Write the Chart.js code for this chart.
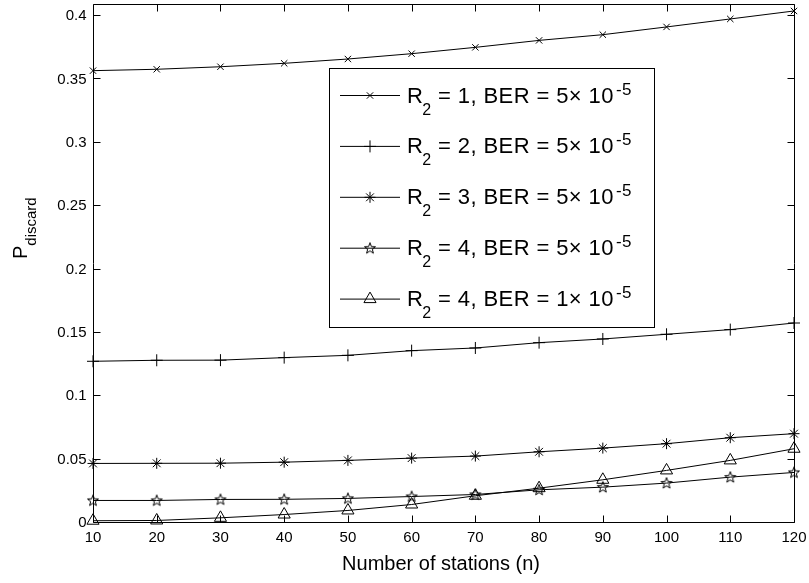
<!DOCTYPE html>
<html><head><meta charset="utf-8">
<script src="https://cdn.jsdelivr.net/npm/chart.js@4/dist/chart.umd.min.js"></script>
<style>html,body{margin:0;padding:0;background:#fff}#wrap{width:809px;height:583px;position:relative}</style>
</head><body><div id="wrap"><canvas id="c"></canvas></div>
<script>
// ---- data ----
const stations = [10,20,30,40,50,60,70,80,90,100,110,120];
const r1Ber5 = [0.3561,0.3572,0.3592,0.3619,0.3653,0.3695,0.3745,0.3800,0.3845,0.3906,0.3969,0.4032];
const r2Ber5 = [0.1268,0.1276,0.1277,0.1297,0.1315,0.1352,0.1373,0.1415,0.1444,0.1481,0.1518,0.1570];
const r3Ber5 = [0.0462,0.0463,0.0464,0.0472,0.0486,0.0504,0.0520,0.0554,0.0583,0.0618,0.0665,0.0697];
const r4Ber5 = [0.0170,0.0170,0.0178,0.0179,0.0186,0.0201,0.0217,0.0254,0.0275,0.0307,0.0354,0.0391];
const r4Ber1 = [0.0010,0.0012,0.0033,0.0059,0.0091,0.0138,0.0207,0.0267,0.0333,0.0407,0.0486,0.0578];
const xTickValues = [10,20,30,40,50,60,70,80,90,100,110,120];
const yTickValues = [0,0.05,0.1,0.15,0.2,0.25,0.3,0.35,0.4];
const yTickLabels = ['0','0.05','0.1','0.15','0.2','0.25','0.3','0.35','0.4'];
const legendR = ['1','2','3','4','4'];
const legendBER = ['5','5','5','5','1'];
const xTitle = 'Number of stations (n)';
const yTitleMain = 'P';
const yTitleSub = 'discard';

const FONT = '"Liberation Sans", Arial, Helvetica, sans-serif';

// pentagram marker
function makePentagram(){
  const c = document.createElement('canvas');
  c.width = 14; c.height = 14;
  const g = c.getContext('2d');
  g.strokeStyle = '#000'; g.lineWidth = 1;
  g.beginPath();
  const cx = 7, cy = 7.3, ro = 5.8, ri = 2.4;
  for (let k = 0; k < 10; k++){
    const ang = -Math.PI/2 + k*Math.PI/5;
    const rr = k % 2 === 0 ? ro : ri;
    const px = cx + rr*Math.cos(ang), py = cy + rr*Math.sin(ang);
    if (k === 0) g.moveTo(px, py); else g.lineTo(px, py);
  }
  g.closePath(); g.stroke();
  return c;
}
const pent = makePentagram();

const seriesList = [r1Ber5, r2Ber5, r3Ber5, r4Ber5, r4Ber1];
const styles = [
  {pointStyle:'crossRot', radius:4.5},
  {pointStyle:'cross', radius:6},
  {pointStyle:'star', radius:5.5},
  {pointStyle:pent, radius:6},
  {pointStyle:'triangle', radius:7}
];

const datasets = seriesList.map((s, i) => ({
  label: 'R' + legendR[i],
  data: stations.map((x, j) => ({x: x, y: s[j]})),
  borderColor: '#000',
  borderWidth: 1,
  pointStyle: styles[i].pointStyle,
  pointRadius: styles[i].radius,
  pointHoverRadius: styles[i].radius,
  pointBorderColor: '#000',
  pointBackgroundColor: 'rgba(0,0,0,0)',
  pointBorderWidth: 1,
  fill: false,
  tension: 0,
  clip: false
}));

function drawMarker(ctx, st, x, y){
  if (Chart.helpers && Chart.helpers.drawPoint){
    Chart.helpers.drawPoint(ctx, {pointStyle: st.pointStyle, radius: st.radius, rotation: 0, borderWidth: 1}, x, y);
  }
}

const frame = {
  id: 'frame',
  beforeDatasetsDraw(chart){
    const {ctx, chartArea: a, scales: {x, y}} = chart;
    ctx.save();
    ctx.strokeStyle = '#000'; ctx.lineWidth = 1;
    const L = Math.round(a.left) + 0.5, R = Math.round(a.right) + 0.5;
    const T = Math.round(a.top) + 0.5, B = Math.round(a.bottom) + 0.5;
    ctx.beginPath();
    ctx.rect(L, T, R - L, B - T);
    const tl = 7;
    x.ticks.forEach(t => {
      const px = Math.round(x.getPixelForValue(t.value)) + 0.5;
      ctx.moveTo(px, B); ctx.lineTo(px, B - tl);
      ctx.moveTo(px, T); ctx.lineTo(px, T + tl);
    });
    y.ticks.forEach(t => {
      const py = Math.round(y.getPixelForValue(t.value)) + 0.5;
      ctx.moveTo(L, py); ctx.lineTo(L + tl, py);
      ctx.moveTo(R, py); ctx.lineTo(R - tl, py);
    });
    ctx.stroke();
    // y tick labels
    ctx.fillStyle = '#000';
    ctx.font = '15px ' + FONT;
    ctx.textAlign = 'right';
    ctx.textBaseline = 'middle';
    y.ticks.forEach(t => {
      const k = yTickValues.findIndex(v => Math.abs(v - t.value) < 1e-9);
      if (k >= 0) ctx.fillText(yTickLabels[k], L - 7, y.getPixelForValue(t.value) + 1);
    });
    ctx.restore();
  },
  afterDatasetsDraw(chart){
    const {ctx} = chart;
    ctx.save();
    // legend box
    const bx = 329, by = 68, bw = 325, bh = 259;
    ctx.fillStyle = '#fff';
    ctx.fillRect(bx, by, bw, bh);
    ctx.strokeStyle = '#000'; ctx.lineWidth = 1;
    ctx.strokeRect(bx + 0.5, by + 0.5, bw, bh);
    ctx.fillStyle = '#000';
    ctx.textBaseline = 'alphabetic';
    ctx.textAlign = 'left';
    for (let i = 0; i < seriesList.length; i++){
      const ry = 95.5 + i * 50.9;
      ctx.beginPath();
      ctx.moveTo(340, ry); ctx.lineTo(400, ry);
      ctx.stroke();
      ctx.strokeStyle = '#000'; ctx.fillStyle = 'rgba(0,0,0,0)';
      drawMarker(ctx, styles[i], 370, ry);
      ctx.fillStyle = '#000';
      let tx = 407;
      const base = ry + 7;
      try { ctx.letterSpacing = '0.4px'; } catch(e) {}
      ctx.font = '22px ' + FONT;
      ctx.fillText('R', tx, base); tx += ctx.measureText('R').width - 1;
      ctx.font = '16px ' + FONT;
      ctx.fillText('2', tx, base + 12); tx += ctx.measureText('2').width;
      ctx.font = '22px ' + FONT;
      const rest = ' = ' + legendR[i] + ', BER = ' + legendBER[i] + '\u00d7 10';
      ctx.fillText(rest, tx, base); tx += ctx.measureText(rest).width;
      ctx.font = '17px ' + FONT;
      ctx.fillText('-5', tx + 2, base - 8);
      try { ctx.letterSpacing = '0px'; } catch(e) {}
    }
    // x title
    ctx.font = '20px ' + FONT;
    ctx.textAlign = 'center';
    ctx.fillText(xTitle, 441, 570);
    // y title
    ctx.save();
    ctx.translate(27, 259);
    ctx.rotate(-Math.PI / 2);
    ctx.textAlign = 'left';
    ctx.font = '20px ' + FONT;
    ctx.fillText(yTitleMain, 0, 0);
    const pw = ctx.measureText(yTitleMain).width;
    ctx.font = '15px ' + FONT;
    ctx.fillText(yTitleSub, pw, 9);
    ctx.restore();
    ctx.restore();
  }
};

new Chart(document.getElementById('c'), {
  type: 'line',
  data: {datasets: datasets},
  options: {
    responsive: true,
    maintainAspectRatio: false,
    animation: false,
    devicePixelRatio: 1,
    layout: {autoPadding: false, padding: {left: 0, right: 15, top: 4, bottom: 0}},
    plugins: {legend: {display: false}, tooltip: {enabled: false}, title: {display: false}},
    scales: {
      x: {
        type: 'linear', min: 10, max: 120,
        afterBuildTicks: s => { s.ticks = xTickValues.map(v => ({value: v})); },
        afterFit: s => { s.height = 61; s.paddingLeft = 0; s.paddingRight = 0; },
        grid: {display: false, drawTicks: false},
        border: {display: false},
        ticks: {color: '#000', font: {size: 15, family: FONT}, padding: 7, maxRotation: 0, autoSkip: false,
          callback: v => String(v)}
      },
      y: {
        type: 'linear', min: 0, max: 0.4087,
        afterBuildTicks: s => { s.ticks = yTickValues.map(v => ({value: v})); },
        afterFit: s => { s.width = 93; s.paddingTop = 0; s.paddingBottom = 0; },
        grid: {display: false, drawTicks: false},
        border: {display: false},
        ticks: {display: false}
      }
    }
  },
  plugins: [frame]
});
</script>
</body></html>
